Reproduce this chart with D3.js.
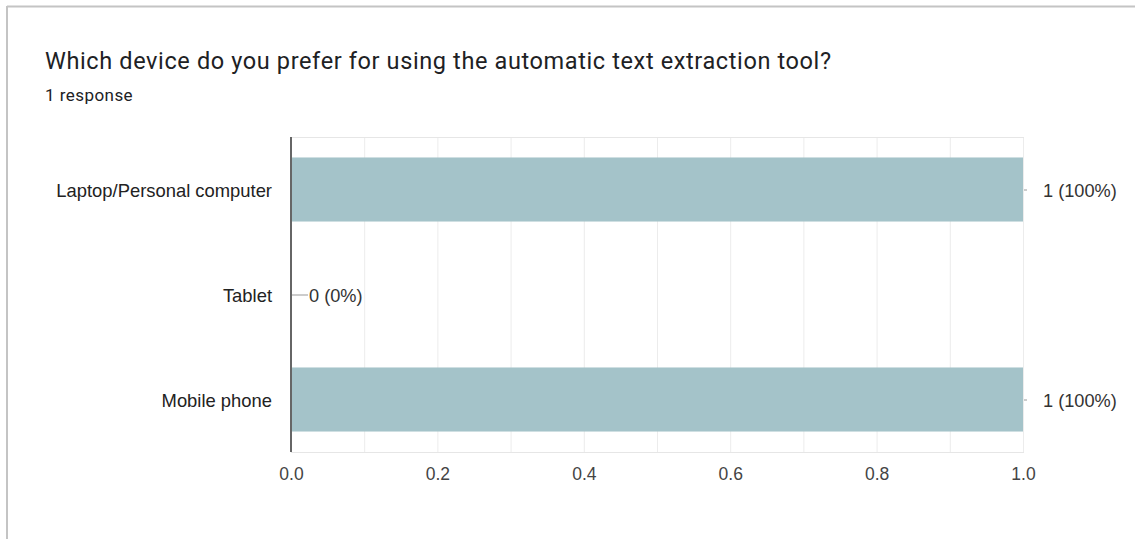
<!DOCTYPE html>
<html>
<head>
<meta charset="utf-8">
<script src="https://cdn.jsdelivr.net/npm/d3@7"></script>
<style>
  html, body { margin: 0; padding: 0; background: #fff; }
  svg { display: block; }
</style>
</head>
<body>
<svg id="chart" width="1135" height="539"></svg>
<script>
// Survey answers
const title = "Which device do you prefer for using the automatic text extraction tool?";
const subtitle = "1 response";
const categories = ["Laptop/Personal computer", "Tablet", "Mobile phone"];
const counts = [1, 0, 1];
const percents = [100, 0, 100];
const tickValues = [0, 0.2, 0.4, 0.6, 0.8, 1.0];
const gridValues = [0, 0.1, 0.2, 0.3, 0.4, 0.5, 0.6, 0.7, 0.8, 0.9, 1.0];

const svg = d3.select("#chart");
const W = 1135, H = 539;
const plot = { left: 291, right: 1023, top: 137, bottom: 452 };
const labelFont = "'Liberation Sans', Arial, sans-serif";

// Card border (top and left edges visible)
svg.append("line").attr("x1", 7).attr("x2", W).attr("y1", 6.5).attr("y2", 6.5)
  .attr("stroke", "#c4c4c4").attr("stroke-width", 2);
svg.append("line").attr("x1", 7).attr("x2", 7).attr("y1", 6).attr("y2", H)
  .attr("stroke", "#c4c4c4").attr("stroke-width", 2);

// Heading
svg.append("text").attr("x", 45).attr("y", 68.5)
  .attr("font-family", "Roboto, sans-serif").attr("font-size", 23.5)
  .attr("letter-spacing", 0.62)
  .attr("fill", "#202124").text(title);
svg.append("text").attr("x", 45).attr("y", 100.5)
  .attr("font-family", "Roboto, sans-serif").attr("font-size", 17)
  .attr("letter-spacing", 0.45)
  .attr("fill", "#202124").text(subtitle);

const x = d3.scaleLinear().domain([0, 1]).range([plot.left, plot.right]);
const y = d3.scaleBand().domain(categories).range([plot.top, plot.bottom])
  .paddingInner(0.39).paddingOuter(0.195);

// Gridlines
svg.append("g").selectAll("line").data(gridValues).join("line")
  .attr("x1", d => x(d) + 0.5).attr("x2", d => x(d) + 0.5)
  .attr("y1", plot.top).attr("y2", plot.bottom)
  .attr("stroke", "#ececec").attr("stroke-width", 1);
svg.append("g").selectAll("line").data([plot.top, plot.bottom]).join("line")
  .attr("x1", plot.left).attr("x2", plot.right + 1)
  .attr("y1", d => d + 0.5).attr("y2", d => d + 0.5)
  .attr("stroke", "#e6e6e6").attr("stroke-width", 1);

// Bars
svg.append("g").selectAll("rect").data(categories).join("rect")
  .attr("x", x(0))
  .attr("y", d => y(d))
  .attr("width", (d, i) => x(counts[i]) - x(0))
  .attr("height", y.bandwidth())
  .attr("fill", "#a4c3c9");

// Value annotations with stems
const ann = svg.append("g");
categories.forEach((c, i) => {
  const cy = y(c) + y.bandwidth() / 2;
  const x0 = x(counts[i]);
  const stem = counts[i] === 0 ? 17 : 4;
  ann.append("line").attr("x1", x0 + 1).attr("x2", x0 + stem)
    .attr("y1", cy + 0.5).attr("y2", cy + 0.5)
    .attr("stroke", "#999").attr("stroke-width", 1);
  ann.append("text").attr("x", counts[i] === 0 ? x0 + 18 : x0 + 20).attr("y", cy + 1)
    .attr("dy", "0.36em")
    .attr("font-family", labelFont).attr("font-size", 18.2)
    .attr("fill", "#333").text(`${counts[i]} (${percents[i]}%)`);
});

// Category labels
const yAxis = svg.append("g").attr("transform", `translate(${plot.left},0)`)
  .call(d3.axisLeft(y).tickSize(0).tickPadding(19));
yAxis.select(".domain").remove();
yAxis.selectAll("text")
  .attr("font-family", labelFont).attr("font-size", 18.4)
  .attr("dy", "0.4em")
  .attr("fill", "#222");

// Value axis labels
const xAxis = svg.append("g").attr("transform", `translate(0,${plot.bottom})`)
  .call(d3.axisBottom(x).tickValues(tickValues).tickFormat(d3.format(".1f")).tickSize(0).tickPadding(16));
xAxis.select(".domain").remove();
xAxis.selectAll("text")
  .attr("font-family", labelFont).attr("font-size", 17.5)
  .attr("fill", "#444");

// Baseline
svg.append("line").attr("x1", plot.left).attr("x2", plot.left)
  .attr("y1", plot.top).attr("y2", plot.bottom)
  .attr("stroke", "#666").attr("stroke-width", 2);
</script>
</body>
</html>
